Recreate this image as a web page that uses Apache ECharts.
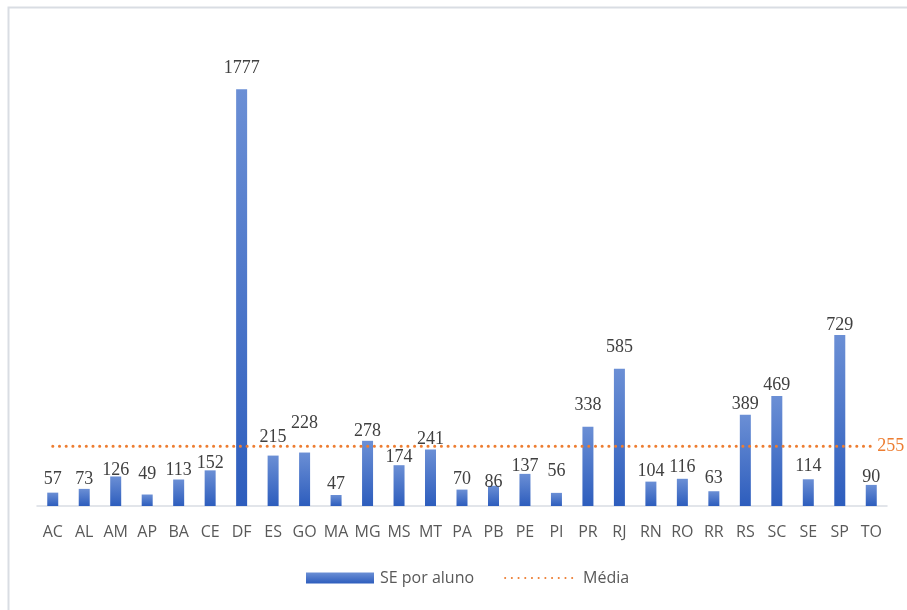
<!DOCTYPE html>
<html>
<head>
<meta charset="utf-8">
<title>SE por aluno</title>
<script src="https://cdn.jsdelivr.net/npm/echarts@6/dist/echarts.min.js"></script>
<style>
  html, body { margin: 0; padding: 0; background: #ffffff; }
  #chart { width: 907px; height: 610px; }
</style>
</head>
<body>
<div id="chart"></div>
<script>
// States (UF) on the category axis
const categories = ['AC','AL','AM','AP','BA','CE','DF','ES','GO','MA','MG','MS','MT','PA','PB','PE','PI','PR','RJ','RN','RO','RR','RS','SC','SE','SP','TO'];
// SE per student for each state
const sePorAluno = [57, 73, 126, 49, 113, 152, 1777, 215, 228, 47, 278, 174, 241, 70, 86, 137, 56, 338, 585, 104, 116, 63, 389, 469, 114, 729, 90];
// National average
const media = 255;
const mediaSeries = categories.map(() => media);
// Hand-placed value labels: gap (px) between each label and its bar
const labelGap = [7, 4, 0, 14, 3, 1, 15, 12, 23, 5, 4, 2, 4, 4, -2, 2, 16, 15, 16, 4, 6, 7, 5, 5, 7, 4, 2];

const serif = '"Liberation Serif", "Times New Roman", serif';
const sans = '"Open Sans", "Noto Sans", sans-serif';

const chart = echarts.init(document.getElementById('chart'), null, { renderer: 'canvas' });

const barData = sePorAluno.map((v, i) => ({
  value: v,
  label: { distance: labelGap[i] - 3 }
}));

chart.setOption({
  backgroundColor: '#ffffff',
  animation: false,
  graphic: [{
    type: 'rect',
    shape: { x: 8.5, y: 7.5, width: 920, height: 640 },
    style: { fill: 'none', stroke: '#d9dde3', lineWidth: 2 },
    silent: true
  }],
  grid: { left: 37, right: 20, top: 37, bottom: 104, containLabel: false },
  legend: {
    bottom: 19,
    left: 301,
    itemWidth: 68,
    itemHeight: 11,
    itemGap: 30,
    textStyle: { fontFamily: sans, fontSize: 16, color: '#595959' },
    data: [
      { name: 'SE por aluno', icon: 'rect', textStyle: { padding: [0, 0, 0, 1] } },
      { name: 'Média', itemStyle: { opacity: 0 }, textStyle: { padding: [0, 0, 0, 5] } }
    ]
  },
  xAxis: {
    type: 'category',
    data: categories,
    axisLine: { lineStyle: { color: '#d9dde3', width: 1.5 } },
    axisTick: { show: false },
    axisLabel: { fontFamily: sans, fontSize: 16, color: '#595959', margin: 18, interval: 0 }
  },
  yAxis: {
    type: 'value',
    min: 0,
    max: 2000,
    show: false,
    splitLine: { show: false }
  },
  series: [
    {
      name: 'SE por aluno',
      type: 'bar',
      data: barData,
      barWidth: 11,
      itemStyle: {
        color: new echarts.graphic.LinearGradient(0, 0, 0, 1, [
          { offset: 0, color: '#6b8fd5' },
          { offset: 1, color: '#2d5dbd' }
        ])
      },
      label: {
        show: true,
        position: 'top',
        fontFamily: serif,
        fontSize: 18,
        color: '#404040'
      }
    },
    {
      name: 'Média',
      type: 'line',
      data: mediaSeries,
      symbol: 'none',
      lineStyle: { color: '#ed7d31', width: 3, type: [0.1, 6.6], cap: 'round' },
      itemStyle: { color: '#ed7d31' },
      z: 5,
      endLabel: {
        show: true,
        distance: 6,
        fontFamily: serif,
        fontSize: 18,
        color: '#ed7d31',
        formatter: () => String(media)
      }
    }
  ]
});
</script>
</body>
</html>
